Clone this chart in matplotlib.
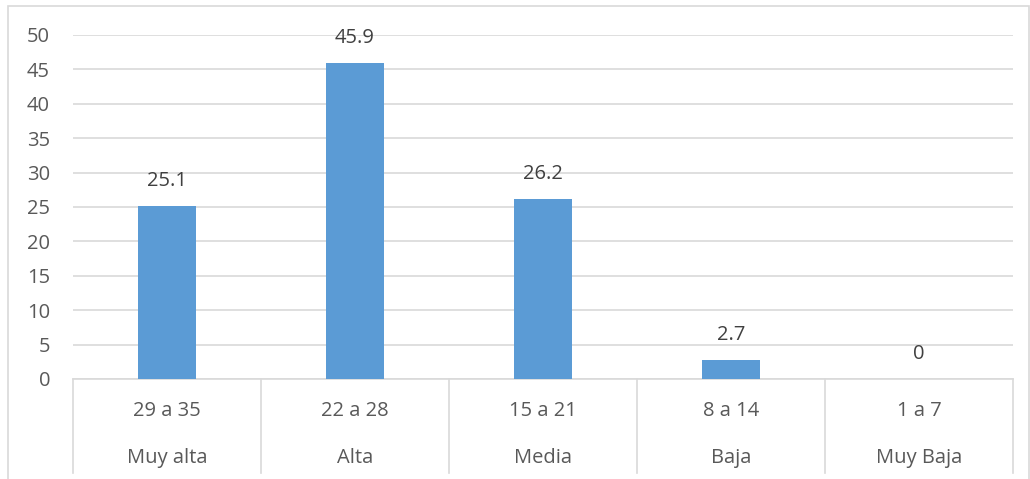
import matplotlib.pyplot as plt
from matplotlib.patches import Rectangle

rangos = ["29 a 35", "22 a 28", "15 a 21", "8 a 14", "1 a 7"]
niveles = ["Muy alta", "Alta", "Media", "Baja", "Muy Baja"]
porcentajes = [25.1, 45.9, 26.2, 2.7, 0]
yticks = [0, 5, 10, 15, 20, 25, 30, 35, 40, 45, 50]

W, H = 1030, 479
fig = plt.figure(figsize=(W / 100, H / 100), dpi=100)
plt.rcParams['font.family'] = ['Open Sans', 'DejaVu Sans']

# borde exterior del grafico
fig.patches.append(Rectangle((8 / W, -0.01), (W - 9) / W, (H - 6) / H + 0.01,
                             transform=fig.transFigure, fill=False,
                             edgecolor="#d9d9d9", linewidth=1.2))

left, right, top, bottom = 73, 1013, 35, 379
ax = fig.add_axes([left / W, 1 - bottom / H, (right - left) / W, (bottom - top) / H])

x = list(range(len(porcentajes)))
ax.bar(x, porcentajes, width=0.31, color="#5b9bd5", zorder=3)
for xi, v in zip(x, porcentajes):
    ax.annotate(f"{v:g}", (xi, v), xytext=(0, 18), textcoords="offset points",
                ha="center", va="center", fontsize=14.5, color="#404040")

ax.set_xlim(-0.5, len(porcentajes) - 0.5)
ax.set_ylim(0, 50)
ax.set_yticks(yticks)
ax.yaxis.grid(True, color="#d9d9d9", linewidth=1.2, zorder=0)
ax.tick_params(axis="y", length=0, pad=16.5, labelsize=14.5, labelcolor="#595959")
ax.set_xticks([])
for s in ["top", "right", "left"]:
    ax.spines[s].set_visible(False)
ax.spines["bottom"].set_color("#d9d9d9")
ax.spines["bottom"].set_linewidth(1.2)

# eje de categorias de dos niveles
axh = bottom - top
tr = ax.get_xaxis_transform()
for i in range(len(porcentajes) + 1):
    ax.plot([i - 0.5, i - 0.5], [0, -(473 - bottom) / axh], transform=tr,
            color="#d9d9d9", linewidth=1.2, clip_on=False)
for xi, r, n in zip(x, rangos, niveles):
    ax.text(xi, -(411 - bottom) / axh, r, transform=tr, ha="center", va="center",
            fontsize=14.5, color="#595959")
    ax.text(xi, -(458 - bottom) / axh, n, transform=tr, ha="center", va="center",
            fontsize=14.5, color="#595959")

fig.savefig("out.png", dpi=100)
